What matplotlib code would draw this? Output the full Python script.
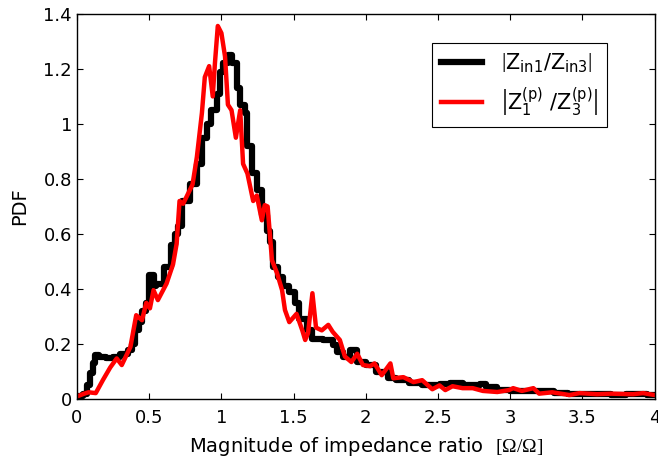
import matplotlib
matplotlib.use('Agg')
import matplotlib.pyplot as plt
import numpy as np

plt.rcParams['font.family'] = ['DejaVu Sans']
plt.rcParams['mathtext.fontset'] = 'custom'
plt.rcParams['mathtext.rm'] = 'Liberation Serif'
plt.rcParams['mathtext.sf'] = 'DejaVu Sans'
plt.rcParams['mathtext.it'] = 'DejaVu Sans'

# black curve: histogram-like PDF of |Zin1/Zin3|
x_black = [0.0, 0.04, 0.07, 0.09, 0.11, 0.125, 0.15, 0.2, 0.25, 0.3, 0.35, 0.38, 0.4, 0.43,
           0.45, 0.48, 0.5, 0.53, 0.55, 0.6, 0.65, 0.68, 0.7, 0.73, 0.78, 0.83, 0.865, 0.9,
           0.93, 0.97, 0.99, 1.01, 1.045, 1.07, 1.11, 1.13, 1.16, 1.18, 1.21, 1.245, 1.28,
           1.315, 1.335, 1.36, 1.39, 1.425, 1.47, 1.51, 1.54, 1.59, 1.63, 1.7, 1.77, 1.8,
           1.84, 1.89, 1.94, 2.0, 2.07, 2.15, 2.21, 2.3, 2.39, 2.51, 2.58, 2.67, 2.79, 2.83,
           2.91, 3.0, 3.1, 3.2, 3.3, 3.4, 3.5, 3.6, 3.7, 3.8, 3.9, 3.95, 4.0]
y_black = [0.01, 0.02, 0.05, 0.095, 0.13, 0.16, 0.155, 0.15, 0.155, 0.165, 0.18, 0.2, 0.25, 0.28,
           0.32, 0.35, 0.45, 0.41, 0.42, 0.48, 0.56, 0.6, 0.63, 0.72, 0.78, 0.855, 0.95, 1.0,
           1.05, 1.11, 1.19, 1.22, 1.25, 1.22, 1.13, 1.07, 1.04, 0.92, 0.82, 0.76, 0.67,
           0.61, 0.57, 0.48, 0.445, 0.41, 0.39, 0.35, 0.29, 0.25, 0.22, 0.215, 0.196, 0.17,
           0.155, 0.18, 0.135, 0.124, 0.1, 0.076, 0.07, 0.058, 0.05, 0.056, 0.058, 0.05, 0.056, 0.045,
           0.033, 0.03, 0.03, 0.028, 0.022, 0.02, 0.02, 0.018, 0.016, 0.018, 0.02, 0.015, 0.015]

# red curve: PDF of |Z1(p)/Z3(p)|
x_red = [0.0, 0.05, 0.08, 0.13, 0.18, 0.23, 0.275, 0.31, 0.37, 0.41, 0.45, 0.48, 0.505, 0.53,
         0.56, 0.62, 0.665, 0.69, 0.71, 0.735, 0.8, 0.83, 0.865, 0.885, 0.915, 0.94, 0.955,
         0.975, 1.0, 1.025, 1.045, 1.07, 1.1, 1.13, 1.15, 1.18, 1.22, 1.245, 1.28, 1.3, 1.32,
         1.35, 1.385, 1.42, 1.44, 1.47, 1.52, 1.56, 1.58, 1.6, 1.63, 1.655, 1.695, 1.74, 1.77,
         1.82, 1.855, 1.9, 1.94, 1.98, 2.03, 2.06, 2.11, 2.17, 2.19, 2.26, 2.33, 2.39, 2.46,
         2.51, 2.55, 2.6, 2.67, 2.74, 2.81, 2.91, 2.99, 3.02, 3.08, 3.16, 3.2, 3.29, 3.41,
         3.48, 3.6, 3.7, 3.85, 3.92, 4.0]
y_red = [0.01, 0.02, 0.025, 0.022, 0.07, 0.115, 0.148, 0.124, 0.19, 0.305, 0.287, 0.35, 0.33, 0.396,
         0.36, 0.42, 0.49, 0.565, 0.72, 0.71, 0.78, 0.88, 1.04, 1.17, 1.21, 1.1, 1.22,
         1.356, 1.33, 1.245, 1.07, 1.05, 0.95, 1.05, 0.855, 0.82, 0.72, 0.74, 0.65, 0.705, 0.70,
         0.505, 0.458, 0.396, 0.324, 0.28, 0.31, 0.25, 0.215, 0.24, 0.385, 0.26, 0.25, 0.27, 0.245,
         0.215, 0.155, 0.135, 0.165, 0.124, 0.12, 0.13, 0.087, 0.13, 0.076, 0.08, 0.062, 0.069, 0.036,
         0.05, 0.033, 0.047, 0.04, 0.04, 0.03, 0.026, 0.033, 0.04, 0.03, 0.04, 0.02, 0.025, 0.015,
         0.022, 0.018, 0.02, 0.018, 0.022, 0.015]

fig = plt.figure(figsize=(6.58, 4.62), dpi=100)
ax = fig.add_axes([0.117, 0.136, 0.878, 0.834])

ax.plot(x_black, y_black, color='black', lw=4.5, drawstyle='steps-post',
        label=r'$\left|\mathsf{Z_{in1}/Z_{in3}}\right|$')
ax.plot(x_red, y_red, color='red', lw=3.2,
        label=r'$\left|\mathsf{Z_1^{(p)}\ /Z_3^{(p)}}\right|$')

ax.set_xlim(0, 4)
ax.set_ylim(0, 1.4)
ax.set_xticks(np.arange(0, 4.01, 0.5))
ax.set_xticklabels(['0', '0.5', '1', '1.5', '2', '2.5', '3', '3.5', '4'])
ax.set_yticks(np.arange(0, 1.41, 0.2))
ax.set_yticklabels(['0', '0.2', '0.4', '0.6', '0.8', '1', '1.2', '1.4'])
ax.tick_params(direction='in', top=True, right=True, length=4, width=0.8, labelsize=13)
ax.tick_params(axis='x', pad=7)
for s in ax.spines.values():
    s.set_linewidth(1.0)

ax.set_xlabel(r'Magnitude of impedance ratio  $[\Omega/\Omega]$', fontsize=14, labelpad=6)
ax.set_ylabel('PDF', fontsize=14, labelpad=10)

leg = ax.legend(loc='upper right', bbox_to_anchor=(0.917, 0.925), borderaxespad=0,
                fontsize=15, fancybox=False, edgecolor='black', framealpha=1,
                handlelength=2.0, handletextpad=0.9, labelspacing=0.5)
leg.get_frame().set_linewidth(0.8)

fig.savefig('out.png', dpi=100)
